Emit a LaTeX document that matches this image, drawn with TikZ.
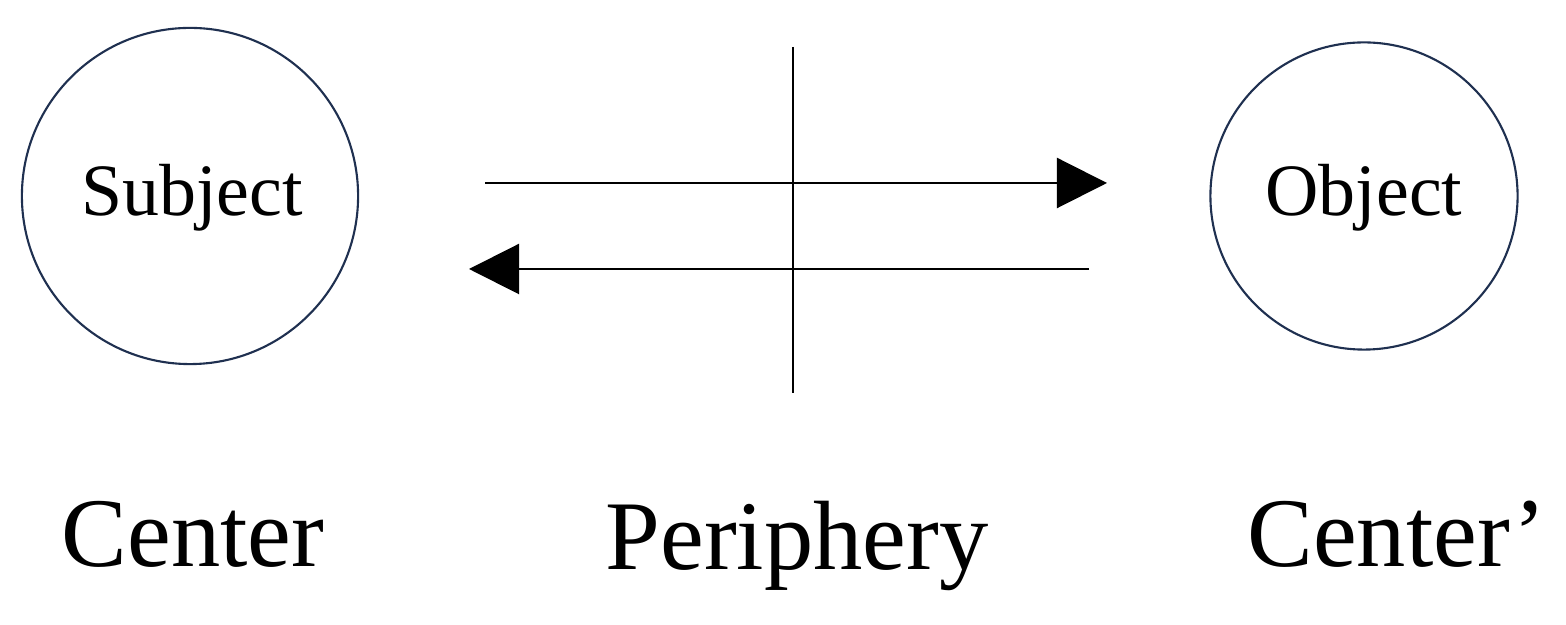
\documentclass[tikz,border=0pt]{standalone}
\usepackage{fontspec}
\setmainfont{Liberation Serif}
\usetikzlibrary{arrows.meta}
\definecolor{navy}{HTML}{1F3050}
\begin{document}
\begin{tikzpicture}[x=0.01cm,y=-0.01cm,
  circ/.style={circle,draw=navy,line width=0.6pt,inner sep=0pt},
  ln/.style={line width=0.6pt},
  arr/.style={ln,-{Triangle[length=0.5cm,width=0.5cm]}},
  small/.style={font=\fontsize{21}{24}\selectfont},
  big/.style={font=\fontsize{28}{32}\selectfont,anchor=base}]
\useasboundingbox (0,0) rectangle (1566,625);
\node[circ,minimum size=3.36cm] (subj) at (190,196) {};
\node[small] (subjt) at (192,198) {Subject};
\node[circ,minimum size=3.07cm] (obj) at (1364,196) {};
\node[small] (objt) at (1364,198) {Object};
\coordinate (vt) at (793,47); \coordinate (vb) at (793,393);
\draw[ln] (vt) -- (vb);
\coordinate (a1) at (485,183); \coordinate (a2) at (1107,183);
\draw[arr] (a1) -- (a2);
\coordinate (b1) at (1089,269); \coordinate (b2) at (469,269);
\draw[arr] (b1) -- (b2);
\node[big] (c1) at (193,567) {Center};
\node[big] (p) at (797,570) {Periphery};
\node[big] (c2) at (1397,567) {Center’};
\end{tikzpicture}
\end{document}
